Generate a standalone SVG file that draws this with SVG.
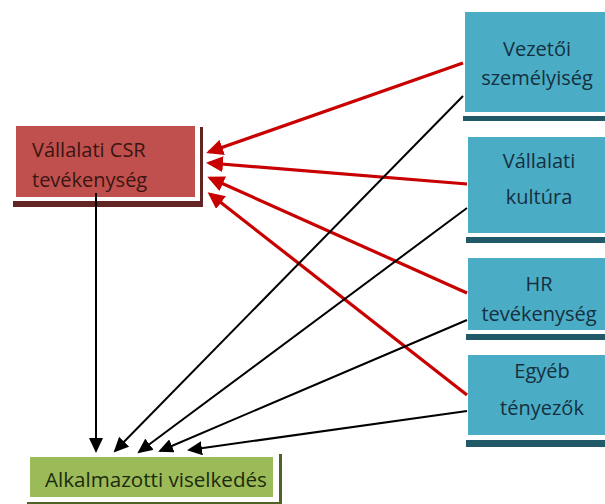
<svg xmlns="http://www.w3.org/2000/svg" width="605" height="504" viewBox="0 0 605 504">
<style>
  .lbl{font-family:"Open Sans","Liberation Sans",sans-serif;font-size:20px}
  .blue .fill{fill:#4BACC6}
  .blue .shadow{fill:#215968}
  .blue text{fill:#15303f;text-anchor:middle}
  .border{fill:#ffffff}
  .red{stroke:#C80000;stroke-width:3.2;fill:none}
  .blk{stroke:#000000;stroke-width:2;fill:none}
</style>
<defs>
  <marker id="ar" markerUnits="userSpaceOnUse" markerWidth="18" markerHeight="16" refX="14" refY="8" orient="auto">
    <path d="M0,0 L17,8 L0,16 z" fill="#C80000"/>
  </marker>
  <marker id="ab" markerUnits="userSpaceOnUse" markerWidth="16" markerHeight="14" refX="13" refY="7" orient="auto">
    <path d="M0,0 L15,7 L0,14 z" fill="#000000"/>
  </marker>
</defs>
<rect width="605" height="504" fill="#ffffff"/>

<g id="csr">
  <rect x="13" y="127" width="190" height="80" fill="#632523"/>
  <rect class="border" x="10" y="121" width="190" height="80"/>
  <rect x="16" y="126" width="179" height="71" fill="#C0504D"/>
  <text class="lbl" x="32" y="157" fill="#3a1512">Vállalati CSR</text>
  <text class="lbl" x="32" y="187" fill="#3a1512">tevékenység</text>
</g>

<g id="vezetoi" class="blue">
  <rect class="shadow" x="463" y="12" width="160" height="109"/>
  <rect class="border" x="460" y="7" width="160" height="109"/>
  <rect class="fill" x="465" y="12" width="150" height="100"/>
  <text class="lbl" x="537" y="56">Vezetői</text>
  <text class="lbl" x="537" y="85">személyiség</text>
</g>

<g id="kultura" class="blue">
  <rect class="shadow" x="466" y="139" width="160" height="104"/>
  <rect class="border" x="463" y="133" width="160" height="104"/>
  <rect class="fill" x="468" y="137" width="150" height="96"/>
  <text class="lbl" x="539" y="168">Vállalati</text>
  <text class="lbl" x="539" y="204">kultúra</text>
</g>

<g id="hr" class="blue">
  <rect class="shadow" x="466" y="259" width="160" height="81"/>
  <rect class="border" x="463" y="253" width="160" height="81"/>
  <rect class="fill" x="468" y="258" width="150" height="72"/>
  <text class="lbl" x="539" y="291">HR</text>
  <text class="lbl" x="539" y="321">tevékenység</text>
</g>

<g id="egyeb" class="blue">
  <rect class="shadow" x="466" y="357" width="160" height="90"/>
  <rect class="border" x="463" y="350" width="160" height="90"/>
  <rect class="fill" x="468" y="355" width="150" height="80"/>
  <text class="lbl" x="542" y="378">Egyéb</text>
  <text class="lbl" x="542" y="415">tényezők</text>
</g>

<g id="alkalmazotti">
  <rect x="27" y="454" width="255" height="51" fill="#4F6228"/>
  <rect class="border" x="24" y="451" width="255" height="51"/>
  <rect x="30" y="457" width="243" height="40" fill="#9BBB59"/>
  <text class="lbl" x="45" y="487" fill="#1d2a0d" style="font-size:20.6px">Alkalmazotti viselkedés</text>
</g>

<g id="connectors">
  <line class="red" x1="463" y1="63" x2="209" y2="152" marker-end="url(#ar)"/>
  <line class="red" x1="467" y1="184" x2="209" y2="163" marker-end="url(#ar)"/>
  <line class="red" x1="467" y1="293" x2="210" y2="178" marker-end="url(#ar)"/>
  <line class="red" x1="467" y1="395" x2="210" y2="194" marker-end="url(#ar)"/>
  <line class="blk" x1="96" y1="193" x2="96" y2="451" marker-end="url(#ab)"/>
  <line class="blk" x1="463" y1="96" x2="115" y2="451" marker-end="url(#ab)"/>
  <line class="blk" x1="467" y1="208" x2="139" y2="452" marker-end="url(#ab)"/>
  <line class="blk" x1="467" y1="320" x2="160" y2="451" marker-end="url(#ab)"/>
  <line class="blk" x1="467" y1="411" x2="189" y2="450" marker-end="url(#ab)"/>
</g>
</svg>
